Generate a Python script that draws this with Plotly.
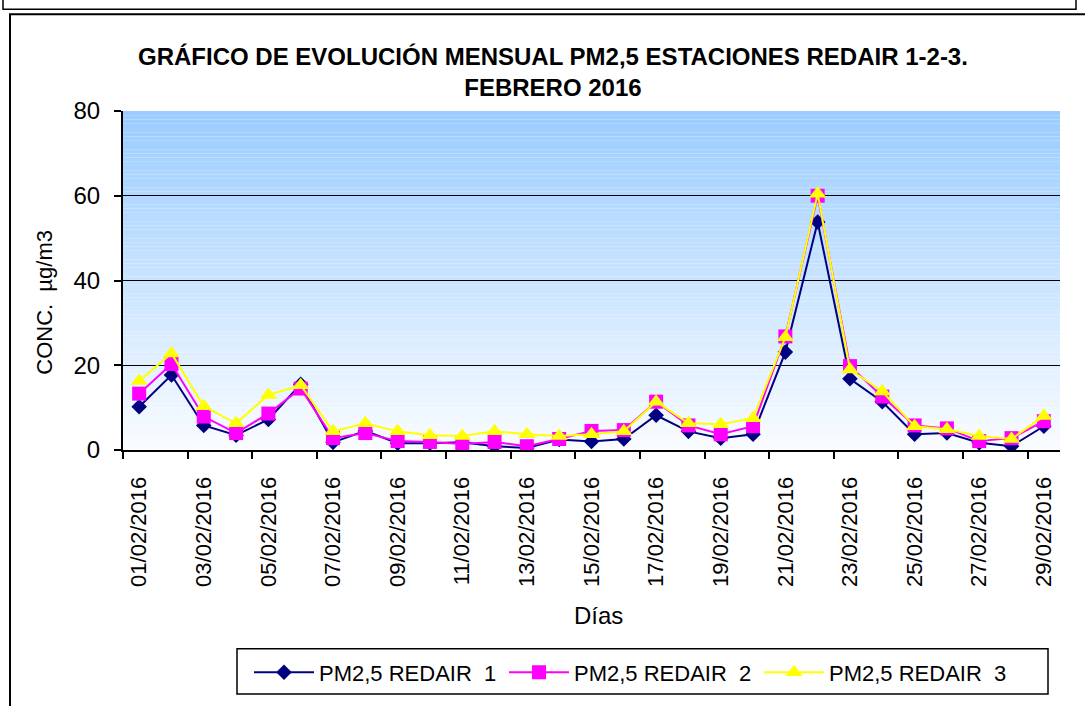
import plotly.graph_objects as go

dates = ["01/02/2016", "02/02/2016", "03/02/2016", "04/02/2016", "05/02/2016",
         "06/02/2016", "07/02/2016", "08/02/2016", "09/02/2016", "10/02/2016",
         "11/02/2016", "12/02/2016", "13/02/2016", "14/02/2016", "15/02/2016",
         "16/02/2016", "17/02/2016", "18/02/2016", "19/02/2016", "20/02/2016",
         "21/02/2016", "22/02/2016", "23/02/2016", "24/02/2016", "25/02/2016",
         "26/02/2016", "27/02/2016", "28/02/2016", "29/02/2016"]

redair1 = [10.2, 17.7, 5.8, 3.5, 7.2, 15.5, 1.8, 4.5, 1.6, 1.6, 1.8, 0.9, 0.5, 2.5, 2.0,
           2.6, 8.2, 4.4, 2.8, 3.7, 23.1, 53.8, 16.8, 11.4, 3.7, 4.0, 1.7, 0.9, 5.6]
redair2 = [13.3, 20.3, 7.9, 4.0, 8.6, 14.5, 2.8, 4.0, 2.1, 1.9, 1.4, 1.9, 0.9, 2.6, 4.5,
           4.7, 11.4, 5.8, 3.7, 5.6, 26.8, 60.0, 19.8, 12.6, 5.8, 5.1, 2.1, 2.8, 6.8]
redair3 = [16.3, 22.8, 10.3, 6.3, 13.0, 15.3, 4.4, 6.3, 4.4, 3.5, 3.3, 4.4, 3.7, 3.3, 3.7,
           4.4, 11.4, 6.3, 6.1, 7.5, 26.6, 60.5, 19.0, 13.8, 5.6, 4.9, 3.3, 2.6, 8.0]

names = ["PM2,5 REDAIR  1", "PM2,5 REDAIR  2", "PM2,5 REDAIR  3"]
title_text = "GRÁFICO DE EVOLUCIÓN MENSUAL PM2,5 ESTACIONES REDAIR 1-2-3.<br>FEBRERO 2016"
x_title = "Días"
y_title = "CONC.  µg/m3"

W, H = 1085, 706
L, R, T, B = 123, 1060, 111, 454
PW, PH = R - L, B - T


def px(x):
    return (x - L) / PW


def py(y):
    return (B - y) / PH


FONT = "Liberation Sans, Arial, sans-serif"

fig = go.Figure()

styles = [
    dict(color="#000080", symbol="diamond", size=12),
    dict(color="#FF00FF", symbol="square", size=14),
    dict(color="#FFFF00", symbol="triangle-up", size=15),
]
for name, vals, st in zip(names, [redair1, redair2, redair3], styles):
    fig.add_trace(go.Scatter(
        x=dates, y=vals, name=name, mode="lines+markers",
        line=dict(color=st["color"], width=2),
        marker=dict(color=st["color"], symbol=st["symbol"], size=st["size"],
                    line=dict(width=0)),
    ))

# gradient background of the plot area
shapes = []
top_c = (153, 204, 255)
bot_c = (250, 252, 255)
N = 80
for i in range(N):
    t = (i + 0.5) / N
    c = tuple(round(bot_c[k] + (top_c[k] - bot_c[k]) * t) for k in range(3))
    shapes.append(dict(type="rect", xref="paper", yref="paper", x0=0, x1=1,
                       y0=i / N, y1=(i + 1) / N, layer="below",
                       fillcolor="rgb(%d,%d,%d)" % c, line=dict(width=0)))

# outer frames
shapes.append(dict(type="rect", xref="paper", yref="paper",
                   x0=px(3), x1=px(1076), y0=py(-10), y1=py(8),
                   line=dict(color="black", width=1.5), fillcolor="rgba(0,0,0,0)"))
shapes.append(dict(type="rect", xref="paper", yref="paper",
                   x0=px(10), x1=px(1100), y0=py(13), y1=py(730),
                   line=dict(color="black", width=2), fillcolor="rgba(0,0,0,0)"))
# legend box
shapes.append(dict(type="rect", xref="paper", yref="paper",
                   x0=px(237), x1=px(1048), y0=py(701), y1=py(655),
                   line=dict(color="black", width=1.5), fillcolor="white"))

annotations = [
    dict(text=title_text, xref="paper", yref="paper", x=px(553), y=py(72),
         xanchor="center", yanchor="middle", showarrow=False,
         font=dict(family=FONT, size=24, color="black", weight="bold")),
    dict(text=x_title, xref="paper", yref="paper", x=px(598), y=py(621),
         xanchor="center", yanchor="middle", showarrow=False,
         font=dict(family=FONT, size=24, color="black")),
    dict(text=y_title, xref="paper", yref="paper", x=px(45), y=py(305),
         xanchor="center", yanchor="middle", showarrow=False, textangle=-90,
         font=dict(family=FONT, size=22, color="black")),
]

fig.update_layout(
    width=W, height=H,
    margin=dict(l=L, r=W - R, t=T, b=H - B, pad=0),
    paper_bgcolor="white", plot_bgcolor="white",
    font=dict(family=FONT, color="black"),
    shapes=shapes, annotations=annotations,
    showlegend=True,
    legend=dict(orientation="h", x=px(249), y=py(679), xanchor="left", yanchor="middle",
                borderwidth=0, bgcolor="rgba(0,0,0,0)",
                font=dict(family=FONT, size=22, color="black"),
                itemwidth=60, entrywidth=180, entrywidthmode="pixels"),
)
fig.update_xaxes(type="category", range=[-0.5, 28.5], showgrid=False,
                 showline=True, linecolor="black", linewidth=2,
                 ticks="outside", ticklen=7, tickwidth=1.5, tickcolor="black",
                 tickson="boundaries", dtick=2, tick0=0, tickangle=-90,
                 ticklabelstandoff=16,
                 tickfont=dict(family=FONT, size=22, color="black"))
fig.update_yaxes(range=[0, 80], dtick=20, showgrid=True, gridcolor="black", gridwidth=1.3,
                 zeroline=False, showline=True, linecolor="black", linewidth=2,
                 ticks="outside", ticklen=7, tickwidth=1.5, tickcolor="black",
                 ticklabelstandoff=9,
                 tickfont=dict(family=FONT, size=24, color="black"))

fig.write_html("out.html", config={"displayModeBar": False},
               post_script="document.body.style.margin='0px';")
